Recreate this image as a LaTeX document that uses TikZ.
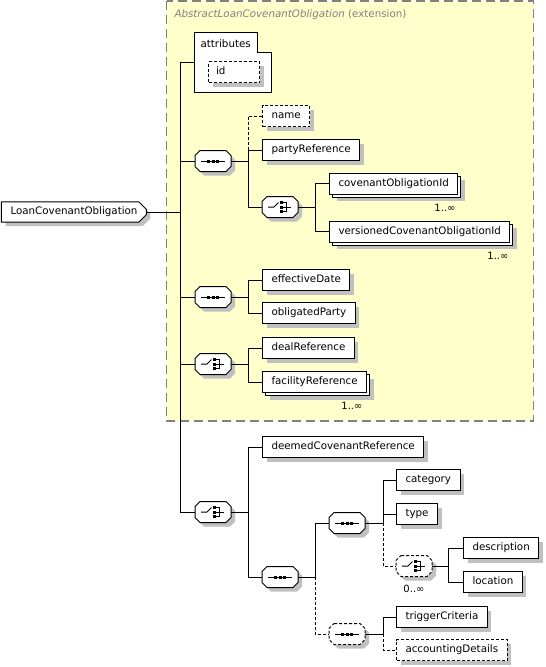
\documentclass[tikz,border=0pt]{standalone}
\usepackage{fontspec}
\setmainfont{DejaVu Sans}
\usetikzlibrary{positioning, shapes.misc, shadows}

\definecolor{extfill}{HTML}{FFFFCC}
\definecolor{extline}{HTML}{808080}
\definecolor{shadowgray}{HTML}{C0C0C0}

\tikzset{
  boxshadow/.style={general shadow={shadow xshift=4pt, shadow yshift=-4pt, fill=shadowgray}},
  elem/.style={draw, fill=white, boxshadow, anchor=west, minimum height=21,
    inner xsep=9pt, inner ysep=0pt, text height=8pt, text depth=2.5pt},
  optelem/.style={elem, dash pattern=on 3pt off 2pt},
  multelem/.style={draw, fill=white, anchor=west, minimum height=21,
    inner xsep=9pt, inner ysep=0pt, text height=8pt, text depth=2.5pt,
    general shadow={shadow xshift=7pt, shadow yshift=-7pt, fill=shadowgray},
    general shadow={shadow xshift=3pt, shadow yshift=-3pt, draw=black, fill=white}},
  compbase/.style={inner sep=0pt, minimum width=35, minimum height=20, anchor=west},
  optline/.style={dash pattern=on 3pt off 2pt},
  mult/.style={inner sep=0pt, font=\fontsize{10}{12}\selectfont},
}

% compositor: #1 line style, #2 name, #3 west point, #4 symbol
\newcommand{\compnode}[4][]{%
  \node[compbase] (#2) at (#3) {};
  \draw[fill=white, boxshadow, #1]
    ([xshift=5pt]#2.north west) -- ([xshift=-5pt]#2.north east)
    -- ([yshift=-5pt]#2.north east) -- ([yshift=5pt]#2.south east)
    -- ([xshift=-5pt]#2.south east) -- ([xshift=5pt]#2.south west)
    -- ([yshift=5pt]#2.south west) -- ([yshift=-5pt]#2.north west) -- cycle;
  \begin{scope}[shift={(#2.center)}]
    #4
  \end{scope}}
\newcommand{\seqmark}{%
  \draw (-12,0) -- (12,0);
  \foreach \dx in {-4.5,0,4.5}
    \fill[black] (\dx-1.5,-1.5) rectangle (\dx+1.5,1.5);}
\newcommand{\chomark}{%
  \draw (-12,0) -- (-6,0) -- (-1.5,-4.5);
  \foreach \dy in {-4.5,0,4.5} {
    \fill[black] (-0.5,\dy-1.5) rectangle (2.5,\dy+1.5);
    \draw (2.5,\dy) -- (6.5,\dy);
  }
  \draw (6.5,-4.5) -- (6.5,4.5);
  \draw (6.5,0) -- (11,0);}

\begin{document}
\begin{tikzpicture}[x=1pt, y=-1pt, line width=1pt, font=\fontsize{10.3}{12}\selectfont]
\useasboundingbox (0,0) rectangle (546,667);

% extension area
\path[fill=extfill, draw=extline, line width=1.5pt, dash pattern=on 9pt off 5pt]
  (166.5,0.75) rectangle (533.5,421);
\node[anchor=base west, inner sep=0pt, text=extline] (exttitle) at (174,17.5)
  {{\itshape AbstractLoanCovenantObligation} (extension)};

% root element
\node[chamfered rectangle, chamfered rectangle corners={north east,south east},
  chamfered rectangle xsep=4pt, draw, fill=white, boxshadow, anchor=west,
  inner xsep=5pt, inner ysep=1.25pt, text height=8pt, text depth=2.5pt]
  (loan) at (1,212) {LoanCovenantObligation};

% attributes
\node[minimum width=76, minimum height=59, inner sep=0pt] (attr) at (233,62.5) {};
\draw[fill=white] (attr.north west) -- ++(63,0) -- ++(0,20) -| (attr.south east)
  -- (attr.south west) -- cycle;
\node[anchor=base west, inner sep=0pt] (attrtitle) at (200,47) {attributes};
\node[optelem, text width=36, align=left, inner xsep=7.5pt] (idattr) at (208,72) {id};

% compositors
\compnode{seq1}{195,161}{\seqmark}
\compnode{cho1}{262,207}{\chomark}
\compnode{seq2}{195,297}{\seqmark}
\compnode{cho2}{195,364}{\chomark}
\compnode{cho3}{195,512}{\chomark}
\compnode{seq3}{262,577}{\seqmark}
\compnode{seq4}{329,523}{\seqmark}
\compnode[optline]{cho4}{396,566}{\chomark}
\compnode[optline]{seq5}{329,634}{\seqmark}

% elements
\node[optelem] (name) at (262,116) {name};
\node[elem] (party) at (262,150) {partyReference};
\node[multelem] (covid) at (329,183.5) {covenantObligationId};
\node[multelem] (verid) at (329,231.5) {versionedCovenantObligationId};
\node[elem] (effdate) at (262,280) {effectiveDate};
\node[elem] (oblparty) at (262,313) {obligatedParty};
\node[elem] (dealref) at (262,348) {dealReference};
\node[multelem] (facref) at (262,382) {facilityReference};
\node[elem] (deemed) at (262,447) {deemedCovenantReference};
\node[elem] (category) at (396,480) {category};
\node[elem] (typ) at (396,514) {type};
\node[elem] (descr) at (463,548) {description};
\node[elem] (loc) at (463,582) {location};
\node[elem] (trigger) at (396,617) {triggerCriteria};
\node[optelem] (acct) at (396,650) {accountingDetails};

% occurrences
\node[mult, anchor=north east] (covmult) at (456,204) {1..∞};
\node[mult, anchor=north east] (vermult) at (509,252) {1..∞};
\node[mult, anchor=north east] (facmult) at (363,402) {1..∞};
\node[mult, anchor=north] (cho4mult) at (414,585) {0..∞};

% trunk
\coordinate (trunk) at (180,0);
\draw (trunk |- attr.west) -- (trunk |- cho3.west);
\draw (loan.east) -- (trunk |- loan.east);
\foreach \n in {attr, seq1, seq2, cho2, cho3}
  \draw (trunk |- \n.west) -- (\n.west);

% branches
\draw (seq1.east) -- ++(17,0) coordinate (b1) |- (party.west);
\draw (b1) |- (cho1.west);
\draw[optline] (b1 |- party.west) |- (name.west);

\draw (cho1.east) -- ++(17,0) coordinate (b2) |- (covid.west);
\draw (b2) |- (verid.west);

\draw (seq2.east) -- ++(17,0) coordinate (b3) |- (effdate.west);
\draw (b3) |- (oblparty.west);

\draw (cho2.east) -- ++(17,0) coordinate (b4) |- (dealref.west);
\draw (b4) |- (facref.west);

\draw (cho3.east) -- ++(17,0) coordinate (b5) |- (deemed.west);
\draw (b5) |- (seq3.west);

\draw (seq3.east) -- ++(17,0) coordinate (b6) |- (seq4.west);
\draw[optline] (b6) |- (seq5.west);

\draw (seq4.east) -- ++(18,0) coordinate (b7) |- (category.west);
\draw (b7) |- (typ.west);
\draw[optline] (b7) |- (cho4.west);

\draw (cho4.east) -- ++(16,0) coordinate (b8) |- (descr.west);
\draw (b8) |- (loc.west);

\draw (seq5.east) -- ++(18,0) coordinate (b9) |- (trigger.west);
\draw[optline] (b9) |- (acct.west);
\end{tikzpicture}
\end{document}
